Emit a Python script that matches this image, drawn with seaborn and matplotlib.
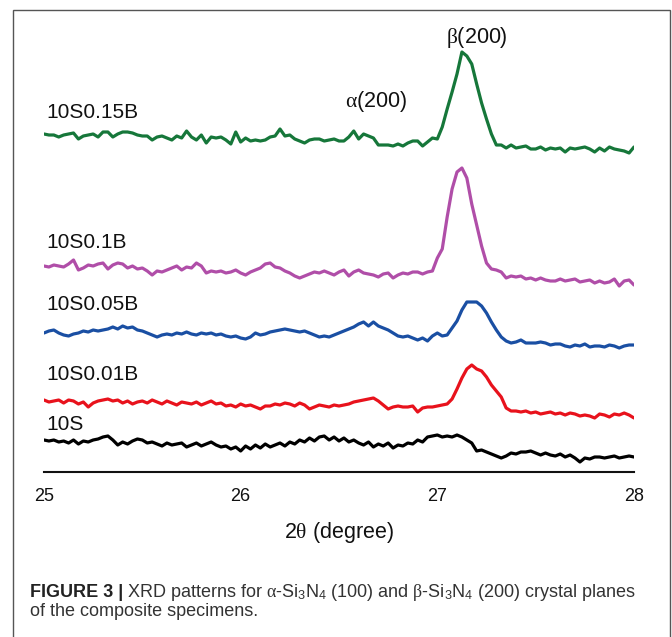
import numpy as np
import pandas as pd
import matplotlib
matplotlib.use("Agg")
import matplotlib.pyplot as plt
import seaborn as sns
from matplotlib.patches import Rectangle

# ---------------- data ----------------
two_theta = np.round(np.linspace(25.0, 28.0, 121), 3)   # 0.025 deg step

i_10S = [60, 59, 60, 58, 59, 57, 60, 56, 59, 58, 60, 61, 63, 64, 60, 55, 58, 56, 59, 61,
         60, 57, 58, 56, 54, 57, 55, 56, 57, 53, 55, 57, 54, 56, 58, 55, 53, 54, 51, 53,
         49, 54, 51, 55, 52, 56, 53, 55, 57, 54, 58, 56, 60, 58, 62, 59, 63, 64, 60, 63,
         59, 62, 58, 60, 57, 55, 58, 53, 56, 54, 57, 52, 55, 54, 57, 56, 60, 58, 63, 64,
         65, 63, 64, 63, 65, 63, 60, 57, 49, 50, 48, 46, 44, 42, 44, 47, 46, 48, 48, 49,
         47, 45, 47, 45, 44, 46, 43, 45, 42, 38, 42, 41, 43, 43, 42, 43, 44, 42, 43, 44, 43]

i_10S001B = [100, 98, 99, 100, 97, 100, 99, 96, 98, 93, 97, 99, 100, 101, 99, 100, 97, 99, 96, 98,
             99, 97, 100, 98, 96, 99, 97, 95, 98, 97, 96, 98, 95, 97, 99, 96, 97, 94, 95, 93,
             96, 94, 95, 93, 91, 94, 94, 96, 95, 97, 96, 94, 97, 95, 91, 93, 95, 94, 93, 95,
             94, 95, 96, 98, 99, 100, 101, 102, 99, 95, 91, 93, 94, 93, 93, 94, 88, 92, 93, 93,
             94, 95, 96, 101, 111, 122, 131, 135, 131, 129, 123, 115, 109, 103, 92, 89, 89, 88, 89, 87,
             88, 86, 87, 88, 86, 87, 85, 87, 86, 84, 85, 84, 82, 86, 85, 83, 86, 85, 87, 85, 82]

i_10S005B = [167, 169, 170, 167, 165, 164, 166, 167, 169, 168, 170, 169, 170, 171, 173, 171, 174, 172, 173, 170,
             169, 167, 165, 163, 165, 166, 165, 167, 166, 168, 166, 165, 167, 166, 167, 165, 166, 164, 163, 164,
             162, 161, 163, 167, 165, 166, 168, 169, 170, 171, 170, 169, 168, 169, 167, 165, 163, 164, 163, 165,
             167, 169, 171, 173, 176, 178, 174, 178, 174, 172, 170, 167, 164, 163, 164, 162, 160, 162, 159, 164,
             167, 164, 165, 172, 179, 190, 198, 198, 198, 194, 187, 178, 170, 163, 159, 157, 158, 160, 157, 157,
             157, 158, 157, 155, 156, 156, 154, 153, 155, 154, 156, 153, 154, 154, 153, 155, 154, 152, 154, 155, 155]

i_10S01B = [234, 233, 235, 234, 233, 236, 240, 230, 232, 235, 234, 236, 237, 231, 235, 237, 236, 232, 234, 231,
            232, 229, 225, 229, 228, 230, 232, 234, 230, 233, 232, 237, 234, 227, 229, 228, 229, 227, 228, 230,
            227, 225, 228, 230, 232, 236, 237, 233, 232, 229, 227, 224, 222, 224, 226, 228, 227, 229, 227, 225,
            228, 230, 224, 228, 230, 227, 226, 225, 223, 226, 227, 222, 225, 227, 226, 228, 228, 226, 228, 229,
            242, 251, 283, 311, 328, 332, 322, 296, 275, 254, 237, 231, 230, 228, 222, 224, 223, 224, 221, 222,
            220, 222, 220, 219, 219, 221, 219, 220, 221, 218, 219, 220, 217, 219, 217, 218, 221, 214, 219, 220, 215]

i_10S015B = [366, 365, 365, 363, 365, 366, 367, 361, 364, 365, 366, 363, 368, 368, 363, 366, 368, 368, 367, 365,
             364, 364, 360, 363, 364, 362, 360, 364, 362, 369, 363, 360, 365, 357, 363, 362, 363, 360, 356, 368,
             358, 362, 359, 360, 359, 360, 363, 364, 371, 364, 365, 361, 359, 357, 360, 361, 361, 359, 360, 361,
             359, 359, 363, 369, 361, 366, 364, 362, 355, 355, 355, 354, 356, 354, 357, 359, 359, 354, 358, 362,
             361, 373, 391, 408, 426, 448, 444, 436, 416, 397, 381, 366, 355, 355, 352, 355, 352, 353, 354, 351,
             351, 353, 350, 352, 351, 352, 348, 352, 351, 352, 353, 351, 348, 352, 349, 353, 351, 350, 349, 347, 353]

samples = ["10S", "10S0.01B", "10S0.05B", "10S0.1B", "10S0.15B"]
colors = ["#000000", "#e8121c", "#1a4fa3", "#b04ea8", "#16773a"]

# labels: (text, x, y) in data coordinates
label_x = [25.01, 25.01, 25.01, 25.01, 25.01]
label_y = [76, 126, 195, 258, 388]
peak_names = [r"$\mathrm{\alpha}$(200)", r"$\mathrm{\beta}$(200)"]
peak_x = [26.69, 27.2]
peak_y = [398, 463]

major_ticks = [25, 26, 27, 28]
minor_ticks = [25.5, 26.5, 27.5]

df = pd.concat([
    pd.DataFrame({"two_theta": two_theta, "intensity": vals, "sample": s})
    for s, vals in zip(samples, [i_10S, i_10S001B, i_10S005B, i_10S01B, i_10S015B])
], ignore_index=True)

# ---------------- style ----------------
sns.set_style("white")
plt.rcParams["font.family"] = ["Liberation Sans", "DejaVu Sans"]
plt.rcParams["mathtext.fontset"] = "custom"
plt.rcParams["mathtext.rm"] = "Liberation Serif"
plt.rcParams["mathtext.sf"] = "Liberation Sans"
plt.rcParams["mathtext.it"] = "Liberation Serif:italic"

W, H = 672, 637
fig = plt.figure(figsize=(W / 100, H / 100), dpi=100)
fig.patch.set_facecolor("white")
ax = fig.add_axes([44 / W, 1 - 472 / H, 590 / W, 442 / H])

sns.lineplot(data=df, x="two_theta", y="intensity", hue="sample",
             hue_order=samples, palette=colors, estimator=None, sort=False,
             linewidth=2.3, legend=False, ax=ax)

ax.set_xlim(25, 28)
ax.set_ylim(28, 470)
ax.set_yticks([])
ax.set_ylabel("")
ax.set_xticks(major_ticks)
ax.set_xticks(minor_ticks, minor=True)
ax.set_xticklabels([str(t) for t in major_ticks])
for side in ["left", "right", "top"]:
    ax.spines[side].set_visible(False)
ax.spines["bottom"].set_color("#111111")
ax.spines["bottom"].set_linewidth(1.5)
ax.tick_params(axis="x", which="major", direction="out", length=6.5, width=1.2,
               color="#111111", labelsize=13, pad=5, labelcolor="#111111")
ax.tick_params(axis="x", which="minor", direction="out", length=3.5, width=1.2,
               color="#111111")
ax.set_xlabel(r"2$\mathrm{\theta}$ (degree)", fontsize=15.5, labelpad=11, color="#111111")
ax.patch.set_alpha(0)

for s, lx, ly in zip(samples, label_x, label_y):
    ax.text(lx, ly, s, fontsize=15, ha="left", va="center", color="#111111")
for name, px, py in zip(peak_names, peak_x, peak_y):
    ax.text(px, py, name, fontsize=15.5, ha="center", va="center", color="#111111")

# frame around the figure panel
fig.patches.append(Rectangle((13 / W, -0.05), (670 - 13) / W, 1.05 - 9.5 / H,
                             transform=fig.transFigure, fill=False,
                             edgecolor="#555555", linewidth=1.0))

# caption
cap_color = "#333333"
t1 = fig.text(30 / W, 1 - 597 / H, "FIGURE 3 |", fontsize=13, weight="bold",
              color="#222222", ha="left", va="baseline")
fig.canvas.draw()
bb = t1.get_window_extent(renderer=fig.canvas.get_renderer())
fig.text((bb.x1 + 4) / W, 1 - 597 / H,
         r"XRD patterns for $\mathrm{\alpha}$-Si$_\mathsf{3}$N$_\mathsf{4}$ (100) and "
         r"$\mathrm{\beta}$-Si$_\mathsf{3}$N$_\mathsf{4}$ (200) crystal planes",
         fontsize=13, color=cap_color, ha="left", va="baseline")
fig.text(30 / W, 1 - 616 / H, "of the composite specimens.", fontsize=13,
         color=cap_color, ha="left", va="baseline")

fig.savefig("out.png", dpi=100, facecolor="white")
